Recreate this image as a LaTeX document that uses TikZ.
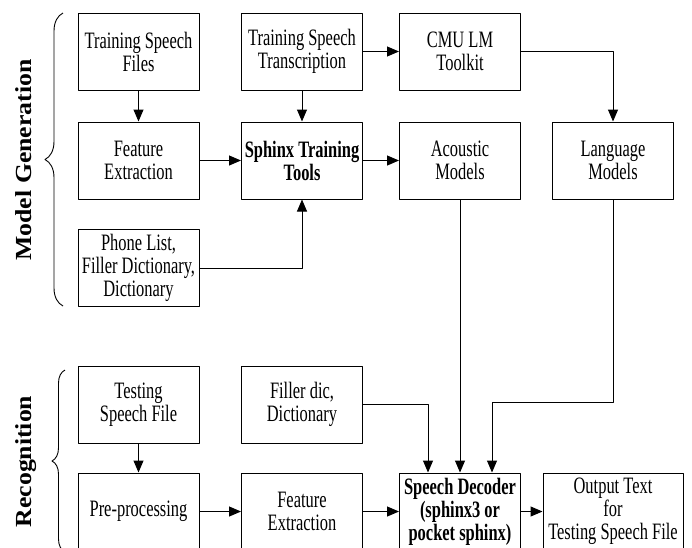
\documentclass[tikz,border=0pt]{standalone}
\usepackage{fontspec}
\setmainfont{Liberation Serif}[FakeStretch=0.7]
\newfontfamily\sidefont{Liberation Serif}[FakeStretch=1.12]
\usetikzlibrary{arrows.meta,decorations.pathreplacing}
\tikzset{
  blk/.style={draw, line width=1pt, minimum width=121pt, minimum height=77pt, inner sep=0pt, align=center, font=\fontsize{23.5}{23}\selectfont},
  bblk/.style={blk, font=\fontsize{23.5}{23}\selectfont\bfseries},
  arr/.style={-{Triangle[length=12pt,width=10pt]}, line width=1pt},
  grp/.style={decorate, decoration={brace,amplitude=#1}, line width=0.9pt},
  side/.style={rotate=90, anchor=base, font=\sidefont\fontsize{23}{25}\selectfont\bfseries}
}
\begin{document}
\begin{tikzpicture}[x=1pt, y=-1pt, line join=round]
		\clip (0,0) rectangle (692,547);
		% model generation
		\node[side] (mg) at (31,160) {Model Generation};
		\draw[grp=18] (63,306)--(63,13);
		\node[blk] (tsf) at (138.5,51.5) {Training Speech\\Files};
		\node[blk] (tst) at (302,51.5) {Training Speech\\Transcription};
		\node[blk] (cmu) at (460,51.5) {CMU LM\\Toolkit};
		\node[blk] (fe) at (138.5,160.5) {Feature\\Extraction};
		\node[bblk] (stt) at (302,160.5) {Sphinx Training\\Tools};
		\node[blk] (am) at (460,160.5) {Acoustic\\Models};
		\node[blk] (lm) at (613,160.5) {Language\\Models};
		\node[blk] (pl) at (138.5,268) {Phone List,\\Filler Dictionary,\\Dictionary};
		% recognition
		\node[side] (rc) at (31,461.5) {Recognition};
		\draw[grp=13] (65,552)--(65,370);
		\node[blk] (tsp) at (138.5,404.5) {Testing\\Speech File};
		\node[blk] (fill) at (302,404.5) {Filler dic,\\Dictionary};
		\node[blk] (pre) at (138.5,511.5) {Pre-processing};
		\node[blk] (fe2) at (302,511.5) {Feature\\Extraction};
		\node[bblk] (dec) at (460,511.5) {Speech Decoder\\(sphinx3 or\\pocket sphinx)};
		\node[blk, minimum width=140pt] (out) at (613,511.5) {Output Text\\for\\Testing Speech File};
		% connectors
		\draw[arr] (tsf)--(fe);
		\draw[arr] (tst)--(stt);
		\draw[arr] (tst)--(cmu);
		\draw[arr] (fe)--(stt);
		\draw[arr] (stt)--(am);
		\draw[arr] (cmu.east)-|(lm.north);
		\draw[arr] (pl.east)-|(stt.south);
		\draw[arr] (tsp)--(pre);
		\draw[arr] (pre)--(fe2);
		\draw[arr] (fe2)--(dec);
		\draw[arr] (dec)--(out);
		\draw[arr] (fill.east)-|([xshift=-32pt]dec.north);
		\draw[arr] (am)--(dec);
		\draw[arr] (lm.south)--++(0,203)-|([xshift=32pt]dec.north);
	\end{tikzpicture}
\end{document}
